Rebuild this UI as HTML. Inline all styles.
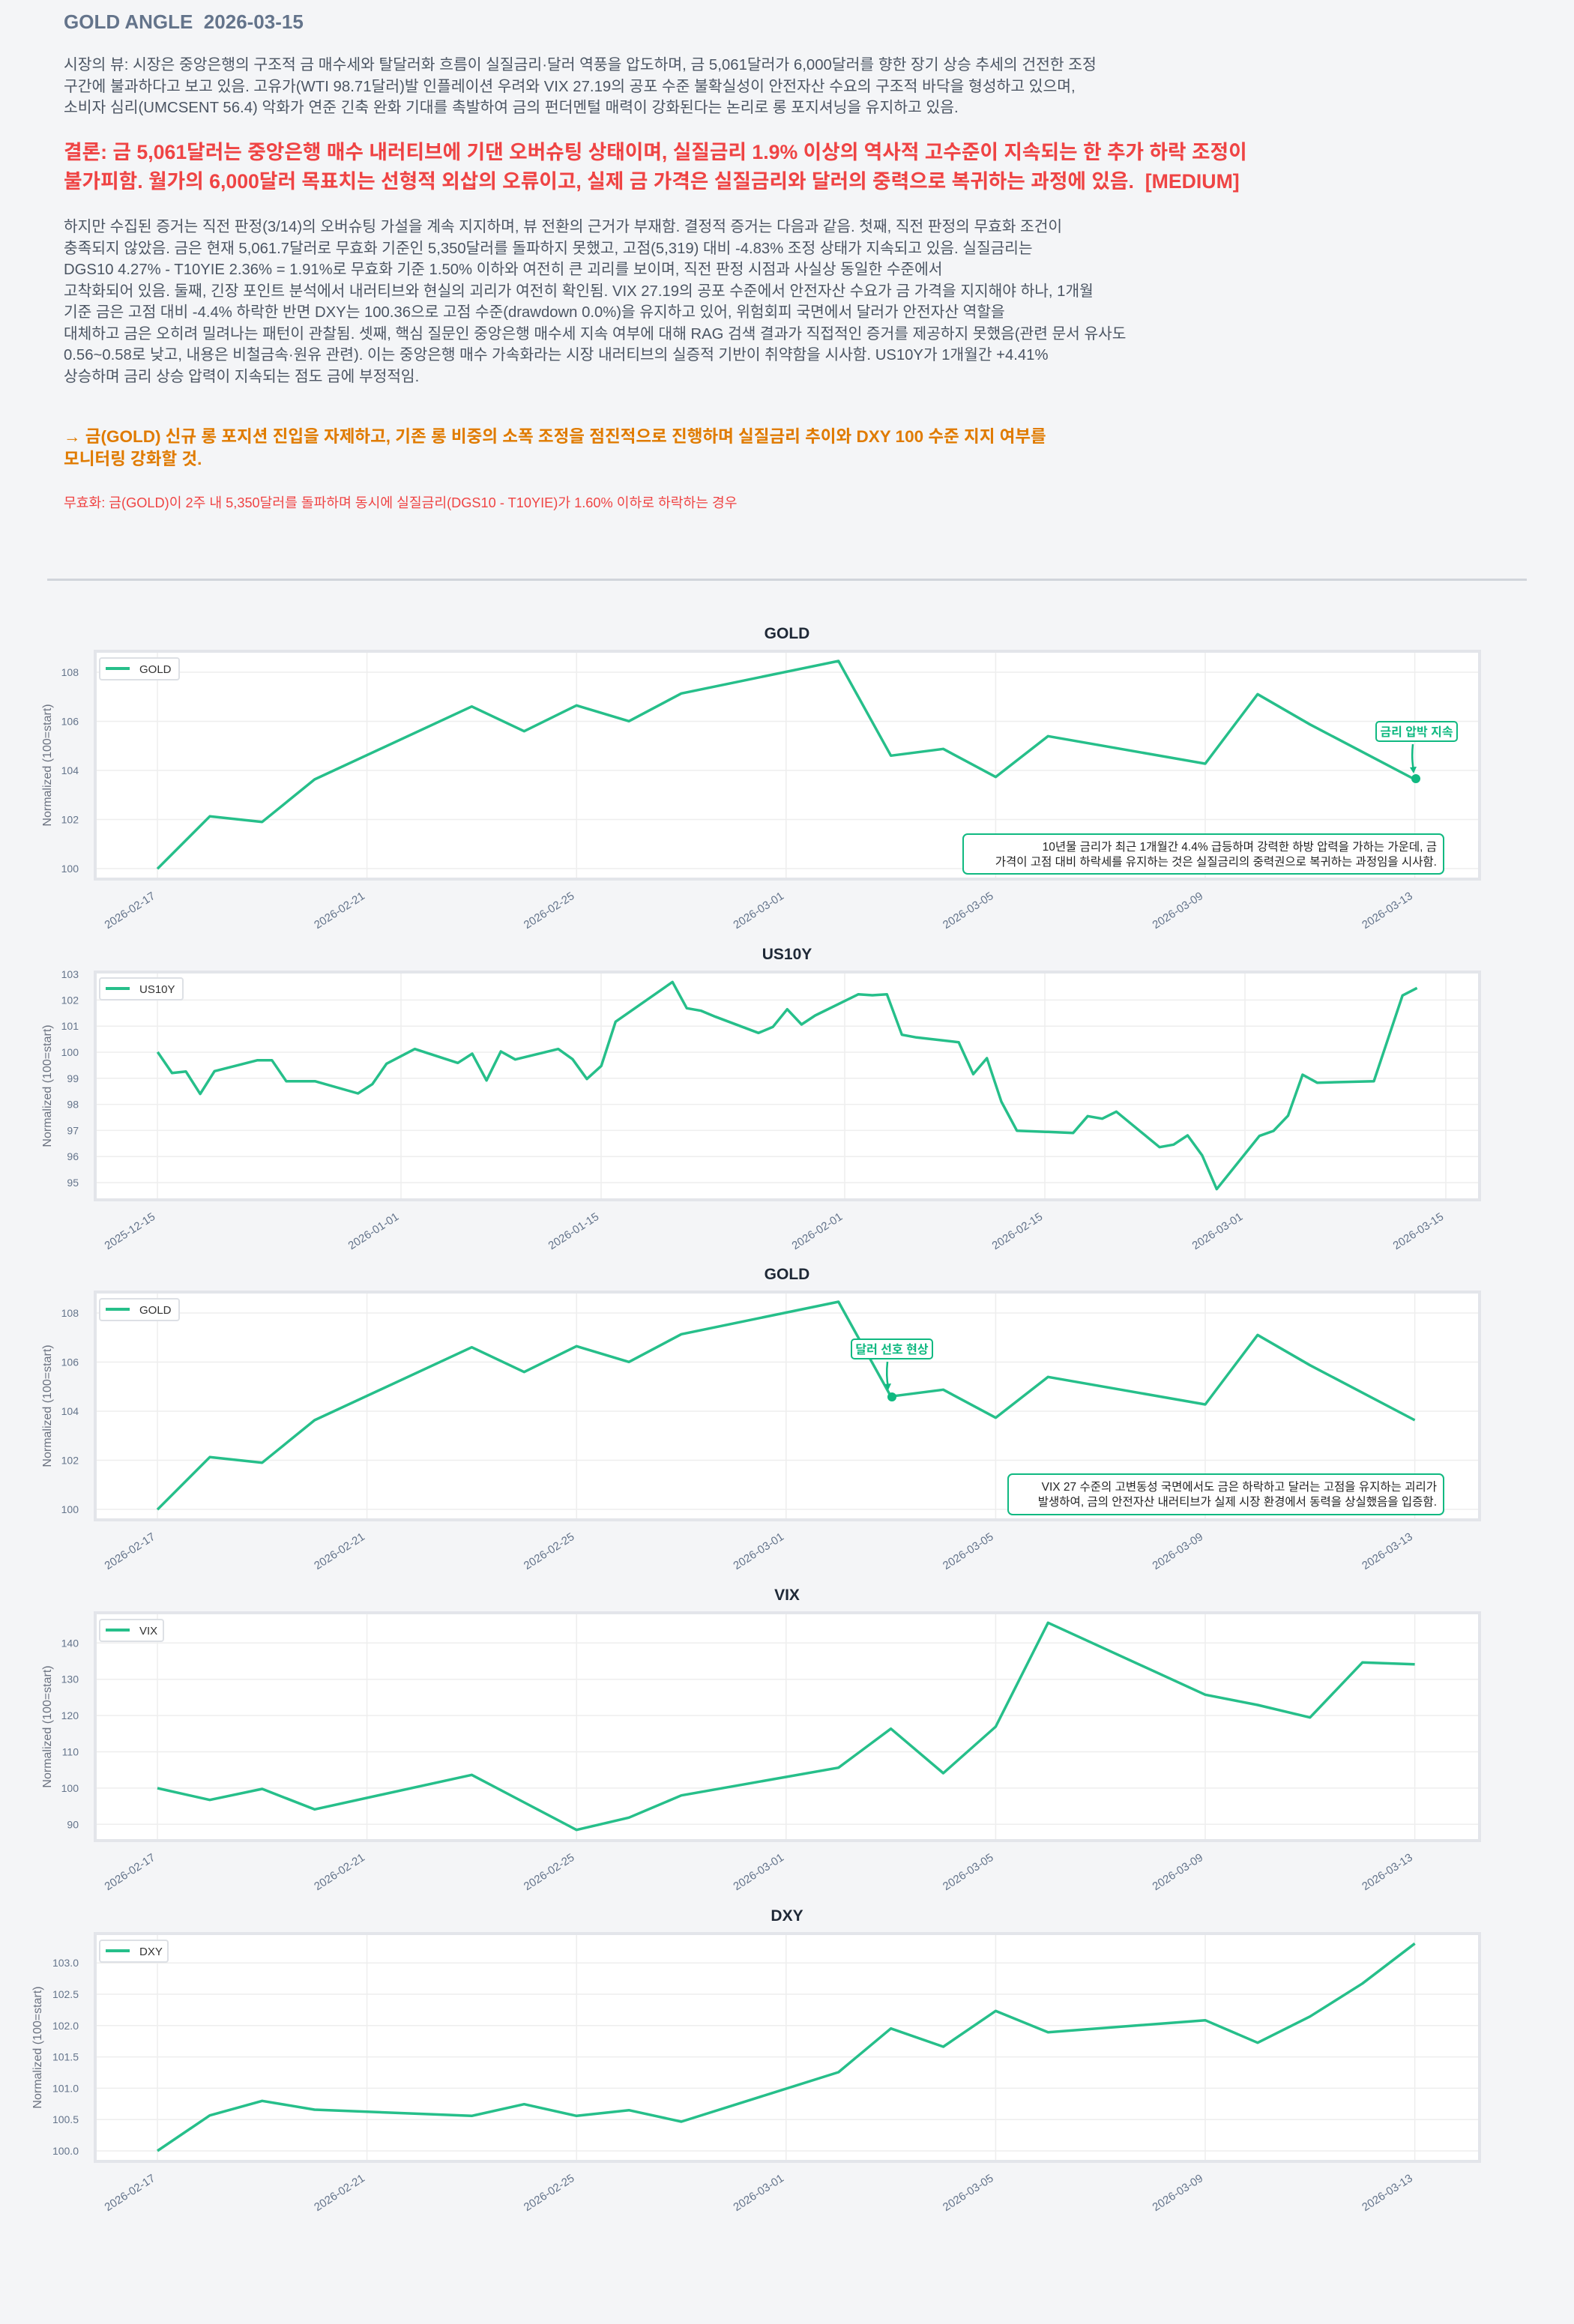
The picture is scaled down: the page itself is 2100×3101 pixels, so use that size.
<!DOCTYPE html>
<html><head><meta charset="utf-8">
<style>
html,body{margin:0;padding:0;}
body{width:2100px;height:3101px;background:#f4f5f7;position:relative;overflow:hidden;font-family:"Liberation Sans","Noto Sans CJK KR",sans-serif;}
.t{position:absolute;left:85px;white-space:nowrap;}
#title{top:14px;font-size:26px;font-weight:bold;color:#64748b;}
.p{color:#4b5563;line-height:28.5px;}
#p1{top:73px;font-size:20.4px;}
#concl{top:184px;font-size:26.7px;font-weight:bold;color:#ef4444;line-height:39px;}
#p2{top:289px;font-size:20.3px;}
#act{top:568px;font-size:22.5px;font-weight:bold;color:#e07b00;line-height:30px;}
#inv{top:657px;font-size:18.2px;color:#ef4444;}
#hr{position:absolute;left:63px;top:772px;width:1974px;height:3px;background:#d1d5db;}
svg{position:absolute;left:0;top:0;}
</style></head><body>
<div class="t" id="title">GOLD ANGLE&nbsp; 2026-03-15</div>
<div class="t p" id="p1">시장의 뷰: 시장은 중앙은행의 구조적 금 매수세와 탈달러화 흐름이 실질금리·달러 역풍을 압도하며, 금 5,061달러가 6,000달러를 향한 장기 상승 추세의 건전한 조정<br>구간에 불과하다고 보고 있음. 고유가(WTI 98.71달러)발 인플레이션 우려와 VIX 27.19의 공포 수준 불확실성이 안전자산 수요의 구조적 바닥을 형성하고 있으며,<br>소비자 심리(UMCSENT 56.4) 악화가 연준 긴축 완화 기대를 촉발하여 금의 펀더멘털 매력이 강화된다는 논리로 롱 포지셔닝을 유지하고 있음.</div>
<div class="t" id="concl">결론: 금 5,061달러는 중앙은행 매수 내러티브에 기댄 오버슈팅 상태이며, 실질금리 1.9% 이상의 역사적 고수준이 지속되는 한 추가 하락 조정이<br>불가피함. 월가의 6,000달러 목표치는 선형적 외삽의 오류이고, 실제 금 가격은 실질금리와 달러의 중력으로 복귀하는 과정에 있음.&nbsp; [MEDIUM]</div>
<div class="t p" id="p2">하지만 수집된 증거는 직전 판정(3/14)의 오버슈팅 가설을 계속 지지하며, 뷰 전환의 근거가 부재함. 결정적 증거는 다음과 같음. 첫째, 직전 판정의 무효화 조건이<br>충족되지 않았음. 금은 현재 5,061.7달러로 무효화 기준인 5,350달러를 돌파하지 못했고, 고점(5,319) 대비 -4.83% 조정 상태가 지속되고 있음. 실질금리는<br>DGS10 4.27% - T10YIE 2.36% = 1.91%로 무효화 기준 1.50% 이하와 여전히 큰 괴리를 보이며, 직전 판정 시점과 사실상 동일한 수준에서<br>고착화되어 있음. 둘째, 긴장 포인트 분석에서 내러티브와 현실의 괴리가 여전히 확인됨. VIX 27.19의 공포 수준에서 안전자산 수요가 금 가격을 지지해야 하나, 1개월<br>기준 금은 고점 대비 -4.4% 하락한 반면 DXY는 100.36으로 고점 수준(drawdown 0.0%)을 유지하고 있어, 위험회피 국면에서 달러가 안전자산 역할을<br>대체하고 금은 오히려 밀려나는 패턴이 관찰됨. 셋째, 핵심 질문인 중앙은행 매수세 지속 여부에 대해 RAG 검색 결과가 직접적인 증거를 제공하지 못했음(관련 문서 유사도<br>0.56~0.58로 낮고, 내용은 비철금속·원유 관련). 이는 중앙은행 매수 가속화라는 시장 내러티브의 실증적 기반이 취약함을 시사함. US10Y가 1개월간 +4.41%<br>상승하며 금리 상승 압력이 지속되는 점도 금에 부정적임.</div>
<div class="t" id="act">→ 금(GOLD) 신규 롱 포지션 진입을 자제하고, 기존 롱 비중의 소폭 조정을 점진적으로 진행하며 실질금리 추이와 DXY 100 수준 지지 여부를<br>모니터링 강화할 것.</div>
<div class="t" id="inv">무효화: 금(GOLD)이 2주 내 5,350달러를 돌파하며 동시에 실질금리(DGS10 - T10YIE)가 1.60% 이하로 하락하는 경우</div>
<div id="hr"></div>

<svg width="2100" height="3101" viewBox="0 0 2100 3101" font-family="Liberation Sans, Noto Sans CJK KR, sans-serif">
<defs>
<g id="vgridA" stroke="#eeeeee" stroke-width="1.5">
<line x1="210" x2="210" y1="0" y2="300"/><line x1="489.6" x2="489.6" y1="0" y2="300"/><line x1="769.2" x2="769.2" y1="0" y2="300"/><line x1="1048.8" x2="1048.8" y1="0" y2="300"/><line x1="1328.4" x2="1328.4" y1="0" y2="300"/><line x1="1608" x2="1608" y1="0" y2="300"/><line x1="1887.6" x2="1887.6" y1="0" y2="300"/>
</g>
<g id="xlabA" font-size="15" fill="#64748b" text-anchor="end">
<text transform="translate(208,0) rotate(-33)">2026-02-17</text>
<text transform="translate(487.6,0) rotate(-33)">2026-02-21</text>
<text transform="translate(767.2,0) rotate(-33)">2026-02-25</text>
<text transform="translate(1046.8,0) rotate(-33)">2026-03-01</text>
<text transform="translate(1326.4,0) rotate(-33)">2026-03-05</text>
<text transform="translate(1606,0) rotate(-33)">2026-03-09</text>
<text transform="translate(1885.6,0) rotate(-33)">2026-03-13</text>
</g>
</defs>

<g font-size="21" font-weight="bold" fill="#1f2937" text-anchor="middle">
<text x="1050" y="852">GOLD</text>
<text x="1050" y="1280">US10Y</text>
<text x="1050" y="1707">GOLD</text>
<text x="1050" y="2135">VIX</text>
<text x="1050" y="2563">DXY</text>
</g>

<g fill="#ffffff" stroke="#e3e5ea" stroke-width="4">
<rect x="127" y="869" width="1847" height="304"/>
<rect x="127" y="1297" width="1847" height="304"/>
<rect x="127" y="1724" width="1847" height="304"/>
<rect x="127" y="2152" width="1847" height="304"/>
<rect x="127" y="2580" width="1847" height="304"/>
</g>

<g font-size="16" fill="#6b7280" text-anchor="middle">
<text transform="translate(68,1021) rotate(-90)">Normalized (100=start)</text>
<text transform="translate(68,1449) rotate(-90)">Normalized (100=start)</text>
<text transform="translate(68,1876) rotate(-90)">Normalized (100=start)</text>
<text transform="translate(68,2304) rotate(-90)">Normalized (100=start)</text>
<text transform="translate(55,2732) rotate(-90)">Normalized (100=start)</text>
</g>

<!-- CHART 1 -->
<use href="#vgridA" transform="translate(0,871)"/>
<g stroke="#eeeeee" stroke-width="1.5">
<line x1="129" x2="1972" y1="1159" y2="1159"/><line x1="129" x2="1972" y1="1093.5" y2="1093.5"/><line x1="129" x2="1972" y1="1028" y2="1028"/><line x1="129" x2="1972" y1="962.5" y2="962.5"/><line x1="129" x2="1972" y1="897" y2="897"/>
</g>
<g font-size="14" fill="#64748b" text-anchor="end">
<text x="105" y="1164">100</text><text x="105" y="1098.5">102</text><text x="105" y="1033">104</text><text x="105" y="967.5">106</text><text x="105" y="902">108</text>
</g>
<use href="#xlabA" transform="translate(0,1198)"/>
<polyline fill="none" stroke="#26bf8a" stroke-width="3.5" stroke-linejoin="round" points="210,1159.3 279.9,1089.3 349.8,1096.7 419.7,1040 629.4,942.7 699.3,975.7 769.2,941.3 839.1,962.3 909,925.3 1118.7,882 1188.6,1008.3 1258.5,999.3 1328.4,1036.7 1398.3,982.3 1608,1019 1677.9,926.3 1747.8,966.7 1887.6,1040"/>
<rect x="133" y="878" width="106" height="29" rx="3" fill="#fff" stroke="#dde0e5" stroke-width="2"/>
<line x1="141" x2="173" y1="892" y2="892" stroke="#26bf8a" stroke-width="4"/>
<text x="186" y="898" font-size="15" fill="#333">GOLD</text>
<circle cx="1889" cy="1039" r="6" fill="#10b981"/>
<path d="M1885,993 Q1883,1012 1886,1028" fill="none" stroke="#10b981" stroke-width="2.5"/>
<path d="M1881,1024 L1886,1032 L1890,1023 Z" fill="#10b981"/>
<rect x="1836" y="963" width="108" height="26" rx="4" fill="#fff" stroke="#10b981" stroke-width="2"/>
<text x="1890" y="982" font-size="16" font-weight="bold" fill="#10b981" text-anchor="middle">금리 압박 지속</text>
<rect x="1285" y="1113" width="641" height="53" rx="6" fill="#fff" stroke="#10b981" stroke-width="2"/>
<g font-size="15.5" fill="#222" text-anchor="end">
<text x="1917" y="1135">10년물 금리가 최근 1개월간 4.4% 급등하며 강력한 하방 압력을 가하는 가운데, 금</text>
<text x="1917" y="1155">가격이 고점 대비 하락세를 유지하는 것은 실질금리의 중력권으로 복귀하는 과정임을 시사함.</text>
</g>

<!-- CHART 2 US10Y -->
<g stroke="#eeeeee" stroke-width="1.5">
<line x1="210" x2="210" y1="1299" y2="1599"/><line x1="535" x2="535" y1="1299" y2="1599"/><line x1="802" x2="802" y1="1299" y2="1599"/><line x1="1127" x2="1127" y1="1299" y2="1599"/><line x1="1394" x2="1394" y1="1299" y2="1599"/><line x1="1661" x2="1661" y1="1299" y2="1599"/><line x1="1929" x2="1929" y1="1299" y2="1599"/>
<line x1="129" x2="1972" y1="1334.4" y2="1334.4"/><line x1="129" x2="1972" y1="1369.2" y2="1369.2"/><line x1="129" x2="1972" y1="1404" y2="1404"/><line x1="129" x2="1972" y1="1438.8" y2="1438.8"/><line x1="129" x2="1972" y1="1473.6" y2="1473.6"/><line x1="129" x2="1972" y1="1508.4" y2="1508.4"/><line x1="129" x2="1972" y1="1543.2" y2="1543.2"/><line x1="129" x2="1972" y1="1578" y2="1578"/>
</g>
<g font-size="14" fill="#64748b" text-anchor="end">
<text x="105" y="1305">103</text><text x="105" y="1339.4">102</text><text x="105" y="1374.2">101</text><text x="105" y="1409">100</text><text x="105" y="1443.8">99</text><text x="105" y="1478.6">98</text><text x="105" y="1513.4">97</text><text x="105" y="1548.2">96</text><text x="105" y="1583">95</text>
</g>
<g font-size="15" fill="#64748b" text-anchor="end" transform="translate(0,1626)">
<text transform="translate(208,0) rotate(-33)">2025-12-15</text>
<text transform="translate(533,0) rotate(-33)">2026-01-01</text>
<text transform="translate(800,0) rotate(-33)">2026-01-15</text>
<text transform="translate(1125,0) rotate(-33)">2026-02-01</text>
<text transform="translate(1392,0) rotate(-33)">2026-02-15</text>
<text transform="translate(1659,0) rotate(-33)">2026-03-01</text>
<text transform="translate(1927,0) rotate(-33)">2026-03-15</text>
</g>
<polyline fill="none" stroke="#26bf8a" stroke-width="3.5" stroke-linejoin="round" points="210.3,1403.7 229.5,1431.7 248,1429.7 267.1,1459.7 286.2,1429.3 343.6,1414.7 362.8,1414.7 381.9,1442.7 420.2,1442.7 477.6,1459 496.7,1446.7 515.8,1419.3 553.4,1399.7 610.8,1418.3 630,1406 649.1,1441.7 668.2,1403 687.4,1413.7 744.8,1399.7 763.9,1413.3 783,1439.7 802.2,1422.3 821.3,1363.3 897.2,1310.3 916.3,1345.3 935.5,1348.7 954.6,1356.7 1012,1378.3 1031.1,1370.3 1050.3,1346.7 1069.4,1367 1087.6,1355 1145.2,1326.7 1163.9,1328 1183.3,1326.7 1203.3,1380.7 1222.7,1384.3 1279.1,1390.7 1298.5,1433.3 1316.7,1412 1336,1470 1356.7,1508.7 1431.8,1511.7 1451.2,1489.3 1470.6,1492.7 1489.4,1483.3 1547,1530.7 1565.8,1527.3 1584.5,1515 1603.9,1541.7 1623.3,1586.7 1680.3,1515.7 1699.1,1509 1718.5,1488.7 1737.9,1434 1757.3,1444.7 1833,1442.7 1871.2,1328.3 1890.6,1318.3"/>
<rect x="133" y="1305" width="111" height="29" rx="3" fill="#fff" stroke="#dde0e5" stroke-width="2"/>
<line x1="141" x2="173" y1="1319" y2="1319" stroke="#26bf8a" stroke-width="4"/>
<text x="186" y="1325" font-size="15" fill="#333">US10Y</text>

<!-- CHART 3 GOLD -->
<use href="#vgridA" transform="translate(0,1726)"/>
<g stroke="#eeeeee" stroke-width="1.5">
<line x1="129" x2="1972" y1="2014" y2="2014"/><line x1="129" x2="1972" y1="1948.5" y2="1948.5"/><line x1="129" x2="1972" y1="1883" y2="1883"/><line x1="129" x2="1972" y1="1817.5" y2="1817.5"/><line x1="129" x2="1972" y1="1752" y2="1752"/>
</g>
<g font-size="14" fill="#64748b" text-anchor="end">
<text x="105" y="2019">100</text><text x="105" y="1953.5">102</text><text x="105" y="1888">104</text><text x="105" y="1822.5">106</text><text x="105" y="1757">108</text>
</g>
<use href="#xlabA" transform="translate(0,2053)"/>
<polyline fill="none" stroke="#26bf8a" stroke-width="3.5" stroke-linejoin="round" transform="translate(0,855)" points="210,1159.3 279.9,1089.3 349.8,1096.7 419.7,1040 629.4,942.7 699.3,975.7 769.2,941.3 839.1,962.3 909,925.3 1118.7,882 1188.6,1008.3 1258.5,999.3 1328.4,1036.7 1398.3,982.3 1608,1019 1677.9,926.3 1747.8,966.7 1887.6,1040"/>
<rect x="133" y="1733" width="106" height="29" rx="3" fill="#fff" stroke="#dde0e5" stroke-width="2"/>
<line x1="141" x2="173" y1="1747" y2="1747" stroke="#26bf8a" stroke-width="4"/>
<text x="186" y="1753" font-size="15" fill="#333">GOLD</text>
<circle cx="1190" cy="1864" r="6" fill="#10b981"/>
<path d="M1184,1817 Q1182,1836 1185,1851" fill="none" stroke="#10b981" stroke-width="2.5"/>
<path d="M1180,1847 L1185,1855 L1189,1846 Z" fill="#10b981"/>
<rect x="1136" y="1787" width="108" height="26" rx="4" fill="#fff" stroke="#10b981" stroke-width="2"/>
<text x="1190" y="1806" font-size="16" font-weight="bold" fill="#10b981" text-anchor="middle">달러 선호 현상</text>
<rect x="1345" y="1967" width="581" height="54" rx="6" fill="#fff" stroke="#10b981" stroke-width="2"/>
<g font-size="15.5" fill="#222" text-anchor="end">
<text x="1917" y="1989">VIX 27 수준의 고변동성 국면에서도 금은 하락하고 달러는 고점을 유지하는 괴리가</text>
<text x="1917" y="2009">발생하여, 금의 안전자산 내러티브가 실제 시장 환경에서 동력을 상실했음을 입증함.</text>
</g>

<!-- CHART 4 VIX -->
<use href="#vgridA" transform="translate(0,2154)"/>
<g stroke="#eeeeee" stroke-width="1.5">
<line x1="129" x2="1972" y1="2434.3" y2="2434.3"/><line x1="129" x2="1972" y1="2385.9" y2="2385.9"/><line x1="129" x2="1972" y1="2337.5" y2="2337.5"/><line x1="129" x2="1972" y1="2289.1" y2="2289.1"/><line x1="129" x2="1972" y1="2240.7" y2="2240.7"/><line x1="129" x2="1972" y1="2192.3" y2="2192.3"/>
</g>
<g font-size="14" fill="#64748b" text-anchor="end">
<text x="105" y="2439.3">90</text><text x="105" y="2390.9">100</text><text x="105" y="2342.5">110</text><text x="105" y="2294.1">120</text><text x="105" y="2245.7">130</text><text x="105" y="2197.3">140</text>
</g>
<use href="#xlabA" transform="translate(0,2481)"/>
<polyline fill="none" stroke="#26bf8a" stroke-width="3.5" stroke-linejoin="round" points="210,2386 279.9,2401.7 349.8,2387 419.7,2414.3 629.4,2368.3 699.3,2405 769.2,2441.7 839.1,2425.3 909,2395.7 1118.7,2358.7 1188.6,2306.7 1258.5,2366 1328.4,2304 1398.3,2165.3 1608,2261.3 1677.9,2275 1747.8,2291.7 1817.7,2218.3 1887.6,2220.7"/>
<rect x="133" y="2161" width="85" height="29" rx="3" fill="#fff" stroke="#dde0e5" stroke-width="2"/>
<line x1="141" x2="173" y1="2175" y2="2175" stroke="#26bf8a" stroke-width="4"/>
<text x="186" y="2181" font-size="15" fill="#333">VIX</text>

<!-- CHART 5 DXY -->
<use href="#vgridA" transform="translate(0,2582)"/>
<g stroke="#eeeeee" stroke-width="1.5">
<line x1="129" x2="1972" y1="2870" y2="2870"/><line x1="129" x2="1972" y1="2828.2" y2="2828.2"/><line x1="129" x2="1972" y1="2786.4" y2="2786.4"/><line x1="129" x2="1972" y1="2744.6" y2="2744.6"/><line x1="129" x2="1972" y1="2702.8" y2="2702.8"/><line x1="129" x2="1972" y1="2661" y2="2661"/><line x1="129" x2="1972" y1="2619.2" y2="2619.2"/>
</g>
<g font-size="14" fill="#64748b" text-anchor="end">
<text x="105" y="2875">100.0</text><text x="105" y="2833.2">100.5</text><text x="105" y="2791.4">101.0</text><text x="105" y="2749.6">101.5</text><text x="105" y="2707.8">102.0</text><text x="105" y="2666">102.5</text><text x="105" y="2624.2">103.0</text>
</g>
<use href="#xlabA" transform="translate(0,2909)"/>
<polyline fill="none" stroke="#26bf8a" stroke-width="3.5" stroke-linejoin="round" points="210,2870 279.9,2822.7 349.8,2803.3 419.7,2815 629.4,2823.3 699.3,2807.7 769.2,2823.3 839.1,2815.7 909,2831 1118.7,2765 1188.6,2706.7 1258.5,2731 1328.4,2683.3 1398.3,2711.7 1608,2695.7 1677.9,2725.7 1747.8,2690.7 1817.7,2646.7 1887.6,2593.3"/>
<rect x="133" y="2589" width="91" height="29" rx="3" fill="#fff" stroke="#dde0e5" stroke-width="2"/>
<line x1="141" x2="173" y1="2603" y2="2603" stroke="#26bf8a" stroke-width="4"/>
<text x="186" y="2609" font-size="15" fill="#333">DXY</text>
</svg>
</body></html>
